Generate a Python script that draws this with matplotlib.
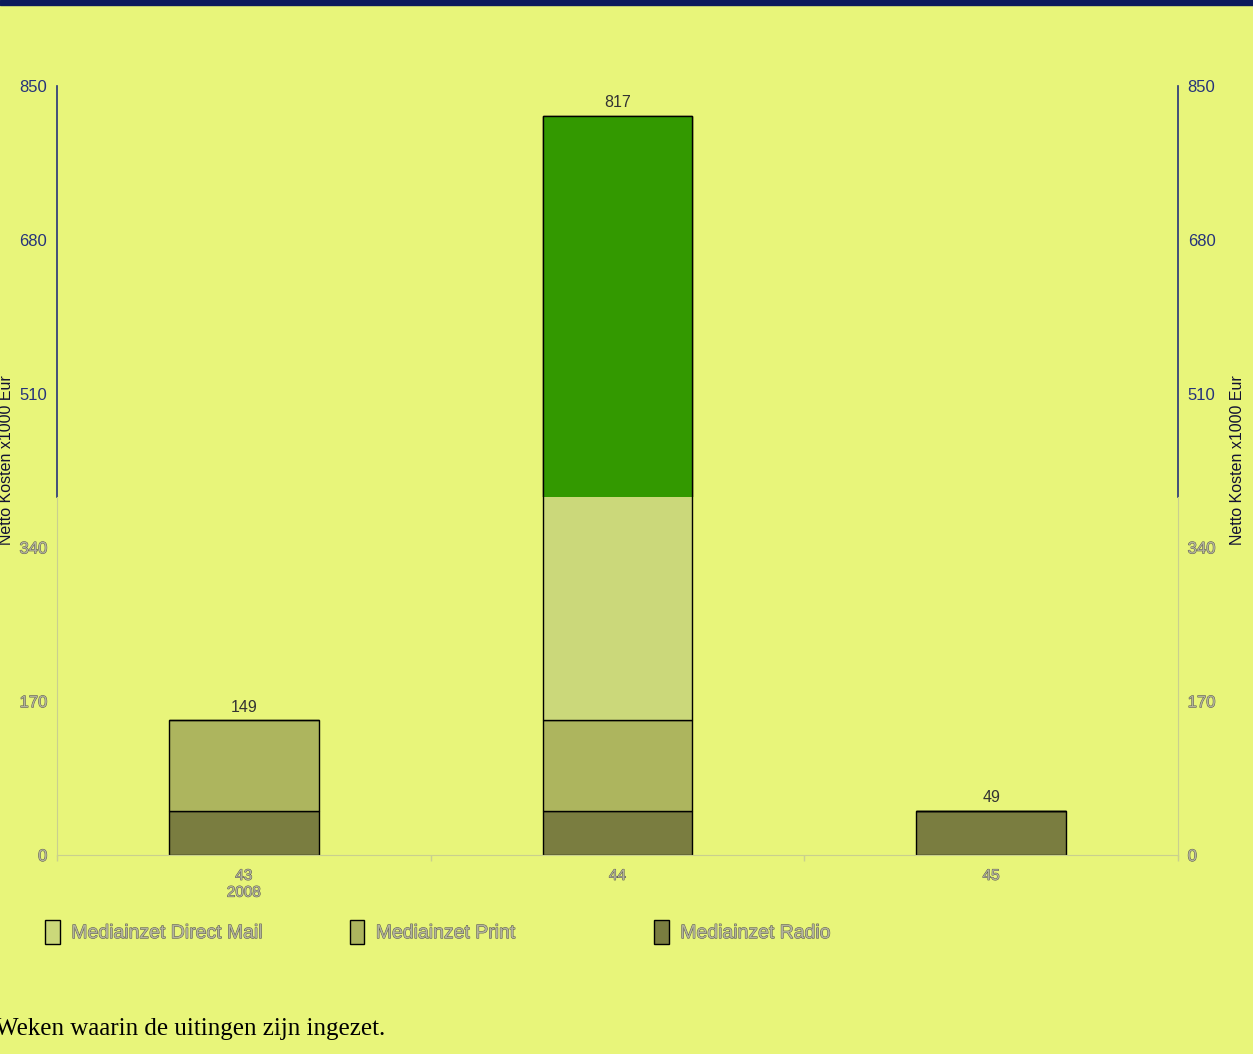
import matplotlib
matplotlib.use('Agg')
import matplotlib.pyplot as plt
import matplotlib.patheffects as pe
from matplotlib.patches import Rectangle
import numpy as np

weeks = ['43\n2008', '44', '45']
radio = [49, 49, 49]
printed = [100, 100, 0]
direct_mail = [0, 668, 0]
totals = [149, 817, 49]
yticks = [0, 170, 340, 510, 680, 850]
labels = ['Mediainzet Direct Mail', 'Mediainzet Print', 'Mediainzet Radio']

bg = '#e8f57a'
navy = '#26337a'
grey_line = '#c9d08e'
grey_txt = '#b4b49c'
c_radio = '#7a7d40'
c_print = '#adb55e'
c_dm = '#cbd87a'
c_green = '#339900'

fig = plt.figure(figsize=(12.53, 10.54), dpi=100, facecolor=bg)
ax = fig.add_axes([0.0455, 0.1888, 0.8946, 0.7296], facecolor=bg)
fig.patches.append(Rectangle((0, 1 - 5 / 1054), 1, 5 / 1054, transform=fig.transFigure,
                             color='#0b1a5c', zorder=5))

split = 0.4655  # axes fraction where the upper render starts
x = np.arange(len(weeks))
w = 0.4
b_radio = ax.bar(x, radio, w, color=c_radio, edgecolor='black', linewidth=1)
b_print = ax.bar(x, printed, w, bottom=radio, color=c_print, edgecolor='black', linewidth=1)
base = np.array(radio) + np.array(printed)
b_dm = ax.bar(x, direct_mail, w, bottom=base, color=c_dm, edgecolor='black', linewidth=1)
# upper part of the direct mail bar shown in green
top_bars = ax.bar(x, direct_mail, w, bottom=base, color=c_green, edgecolor='black', linewidth=1)
clip = Rectangle((0, split), 1, 1, transform=ax.transAxes, visible=False)
ax.add_patch(clip)
for r in top_bars:
    r.set_clip_path(clip)

outline = [pe.withStroke(linewidth=0.7, foreground='#5a5a50')]
for xi, t in zip(x, totals):
    ax.text(xi, t + 6, str(t), ha='center', va='bottom', fontsize=11.5,
            family='Liberation Sans', color='#333333')

ax.set_xlim(-0.5, 2.5)
ax.set_ylim(0, 850)
ax.set_yticks(yticks)
ax.set_xticks(x)
ax.set_xticklabels(weeks, family='Liberation Sans', fontsize=11, color=grey_txt,
                   linespacing=1.25)
for t in ax.get_xticklabels():
    t.set_path_effects(outline)
ax.set_xticks([-0.5, 0.5, 1.5, 2.5], minor=True)
ax.tick_params(axis='x', which='major', length=0, pad=10)
ax.tick_params(axis='x', which='minor', length=4, color=grey_line, width=1)
ax.tick_params(axis='y', length=0, pad=7, labelsize=12, right=True, labelright=True)
for tick, v in zip(ax.yaxis.get_major_ticks(), yticks):
    for lab in (tick.label1, tick.label2):
        lab.set_family('Liberation Sans')
        if v / 850 > split:
            lab.set_color(navy)
        else:
            lab.set_color(grey_txt)
            lab.set_path_effects(outline)

ax.spines['top'].set_visible(False)
ax.spines['bottom'].set_color(grey_line)
for s in ['left', 'right']:
    ax.spines[s].set_color(grey_line)
    ax.spines[s].set_bounds(0, split * 850)
ax.plot([0, 0], [split, 1], transform=ax.transAxes, color=navy, lw=1.2, clip_on=False)
ax.plot([1, 1], [split, 1], transform=ax.transAxes, color=navy, lw=1.2, clip_on=False)

fig.text(0.005, 0.563, 'Netto Kosten x1000 Eur', rotation=90, ha='center', va='center',
         family='Liberation Sans', fontsize=11.5, color='#111133')
fig.text(0.988, 0.563, 'Netto Kosten x1000 Eur', rotation=90, ha='center', va='center',
         family='Liberation Sans', fontsize=11.5, color='#111133')

handles = [b_dm, b_print, b_radio]
xs = [0.022, 0.265, 0.508]
for h, lab, xl in zip(handles, labels, xs):
    leg = fig.legend([h[0]], [lab], loc='center left', bbox_to_anchor=(xl, 0.116),
                     frameon=False, handlelength=0.75, handleheight=1.5, handletextpad=0.6,
                     prop={'family': 'Liberation Sans', 'size': 14})
    for t in leg.get_texts():
        t.set_color(grey_txt)
        t.set_path_effects(outline)

fig.text(-0.004, 0.013, 'Weken waarin de uitingen zijn ingezet.', ha='left', va='bottom',
         family='Liberation Serif', fontsize=18, color='black')

fig.savefig('out.png', dpi=100, facecolor=bg)
